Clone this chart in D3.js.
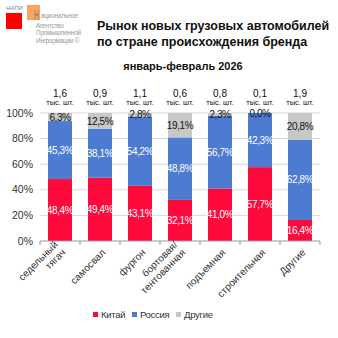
<!DOCTYPE html>
<html>
<head>
<meta charset="utf-8">
<script src="https://cdn.jsdelivr.net/npm/d3@7"></script>
<style>
  body { margin: 0; background: #fff; }
  text { font-family: "Liberation Sans", Arial, sans-serif; }
</style>
</head>
<body>
<svg id="chart" width="338" height="338"></svg>
<script>
"use strict";

var categories = [["седельный", "тягач"], ["самосвал"], ["фургон"], ["бортовая/", "тентованная"], ["подъемная"], ["строительная"], ["Другие"]];
var china = [48.4, 49.4, 43.1, 32.1, 41.0, 57.7, 16.4];
var russia = [45.3, 38.1, 54.2, 48.8, 56.7, 42.3, 62.8];
var others = [6.3, 12.5, 2.8, 19.1, 2.3, 0.0, 20.8];
var totals = ["1,6", "0,9", "1,1", "0,6", "0,8", "0,1", "1,9"];
var seriesNames = ["Китай", "Россия", "Другие"];
var colors = ["#ff0a3c", "#4e7bd2", "#c8c8c8"];
var yTicks = [0, 20, 40, 60, 80, 100];

var svg = d3.select('#chart');
var fmt = function (v) { return v.toFixed(1).replace('.', ',') + '%'; };

// logo
svg.append('rect').attr('x', 6).attr('y', 13).attr('width', 16).attr('height', 16).attr('fill', '#ff0000');
svg.append('rect').attr('x', 27).attr('y', 5).attr('width', 13).attr('height', 15).attr('fill', '#f79646').attr('opacity', 0.85);
svg.append('text').attr('x', 6).attr('y', 10).attr('font-size', 6).attr('fill', '#888').text('НАПИ');
svg.append('text').attr('transform', 'translate(34,19.5) scale(0.6,1.25)')
  .attr('font-size', 11).attr('fill', '#777').text('Н');
var logoLines = ['ациональное', 'Агентство', 'Промышленной', 'Информации ©'];
var logoY = [18, 27.5, 35, 42.5];
logoLines.forEach(function (t, i) {
  svg.append('text').attr('x', i == 0 ? 41 : 36).attr('y', logoY[i])
    .attr('font-size', 6.4).attr('letter-spacing', -0.2).attr('fill', '#999').text(t);
});

// titles
svg.append('text').attr('x', 97).attr('y', 30).attr('font-size', 12.5).attr('font-weight', 'bold')
  .attr('fill', '#111').text('Рынок новых грузовых автомобилей');
svg.append('text').attr('x', 97).attr('y', 46).attr('font-size', 12.5).attr('font-weight', 'bold')
  .attr('fill', '#111').text('по стране происхождения бренда');
svg.append('text').attr('x', 183).attr('y', 70).attr('font-size', 11).attr('font-weight', 'bold')
  .attr('text-anchor', 'middle').attr('fill', '#111').text('январь-февраль 2026');

var x = d3.scaleBand().domain(d3.range(categories.length)).range([40, 320]).paddingInner(0.4).paddingOuter(0.2);
var y = d3.scaleLinear().domain([0, 100]).range([241, 113]);

// gridlines
svg.append('g').selectAll('line').data(yTicks.slice(1)).join('line')
  .attr('x1', 40).attr('x2', 320).attr('y1', function (d) { return y(d); }).attr('y2', function (d) { return y(d); })
  .attr('stroke', '#d9d9d9').attr('stroke-width', 1);

// y labels
svg.append('g').selectAll('text').data(yTicks).join('text')
  .attr('x', 33).attr('y', function (d) { return y(d) + 3.5; })
  .attr('text-anchor', 'end').attr('font-size', 10.5).attr('fill', '#333')
  .text(function (d) { return d + '%'; });

// stacks
var rows = categories.map(function (c, i) { return { i: i, a: china[i], b: russia[i], c: others[i] }; });
var stack = d3.stack().keys(['a', 'b', 'c'])(rows);

var layers = svg.append('g').selectAll('g').data(stack).join('g')
  .attr('fill', function (d, k) { return colors[k]; });
layers.selectAll('rect').data(function (d) { return d; }).join('rect')
  .attr('x', function (d) { return x(d.data.i); })
  .attr('width', x.bandwidth())
  .attr('y', function (d) { return y(d[1]); })
  .attr('height', function (d) { return y(d[0]) - y(d[1]); });

stack.forEach(function (layer, k) {
  svg.append('g').selectAll('text').data(layer).join('text')
    .attr('x', function (d) { return x(d.data.i) + x.bandwidth() / 2; })
    .attr('y', function (d) { return (y(d[0]) + y(d[1])) / 2 + 3.5; })
    .attr('text-anchor', 'middle').attr('font-size', 10).attr('letter-spacing', -0.4)
    .attr('fill', k == 2 ? '#111' : '#fff')
    .text(function (d) { return fmt(d[1] - d[0]); });
});

// totals
svg.append('g').selectAll('text').data(totals).join('text')
  .attr('x', function (d, i) { return x(i) + x.bandwidth() / 2; }).attr('y', 97)
  .attr('text-anchor', 'middle').attr('font-size', 10).attr('fill', '#111').text(function (d) { return d; });
svg.append('g').selectAll('text').data(totals).join('text')
  .attr('x', function (d, i) { return x(i) + x.bandwidth() / 2; }).attr('y', 105)
  .attr('text-anchor', 'middle').attr('font-size', 7.5).attr('fill', '#111').text('тыс. шт.');

// x axis
var xaxis = svg.append('g').attr('transform', 'translate(0,241)');
xaxis.append('line').attr('x1', 40).attr('x2', 320).attr('stroke', '#999');
xaxis.selectAll('line.tick').data(d3.range(categories.length + 1)).join('line')
  .attr('class', 'tick')
  .attr('x1', function (d) { return 40 + d * x.step(); }).attr('x2', function (d) { return 40 + d * x.step(); })
  .attr('y1', 0).attr('y2', 4).attr('stroke', '#999');

categories.forEach(function (lines, i) {
  var cx = x(i) + x.bandwidth() / 2 + 4;
  var t = xaxis.append('text')
    .attr('transform', 'translate(' + cx + ',10) rotate(-45)')
    .attr('text-anchor', 'end').attr('font-size', 10).attr('fill', '#333');
  lines.forEach(function (l, j) {
    t.append('tspan').attr('x', 0).attr('y', j * 11 - (lines.length - 1) * 11 + 3).text(l);
  });
});

// legend
var leg = svg.append('g').attr('transform', 'translate(0,318)');
var lx = [93, 132, 176];
seriesNames.forEach(function (n, k) {
  leg.append('rect').attr('x', lx[k]).attr('y', -6).attr('width', 5).attr('height', 5).attr('fill', colors[k]);
  leg.append('text').attr('x', lx[k] + 8).attr('y', 0).attr('font-size', 9.5).attr('letter-spacing', -0.3)
    .attr('fill', '#333').text(n);
});
</script>
</body>
</html>
